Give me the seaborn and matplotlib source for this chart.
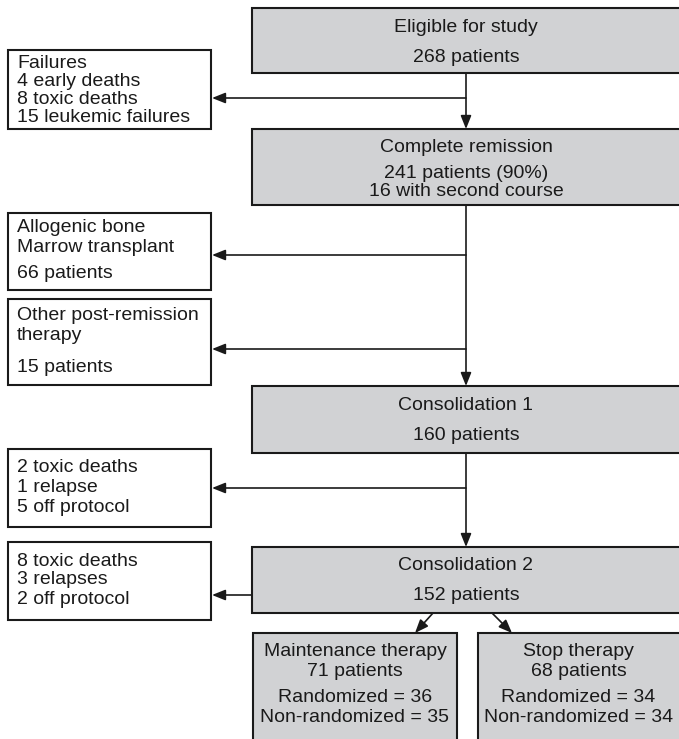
import matplotlib
matplotlib.use("Agg")
import matplotlib.pyplot as plt
from matplotlib.patches import Rectangle
import seaborn as sns

sns.set_style("white")
plt.rcParams['font.family'] = ['Liberation Sans', 'DejaVu Sans']

# texts of the main (grey) boxes, one list per box
main_texts = [
    ["Eligible for study", "268 patients"],
    ["Complete remission", "241 patients (90%)", "16 with second course"],
    ["Consolidation 1", "160 patients"],
    ["Consolidation 2", "152 patients"],
]

# texts of the side (white) boxes
side_texts = [
    ["Failures", "4 early deaths", "8 toxic deaths", "15 leukemic failures"],
    ["Allogenic bone", "Marrow transplant", "66 patients"],
    ["Other post-remission", "therapy", "15 patients"],
    ["2 toxic deaths", "1 relapse", "5 off protocol"],
    ["8 toxic deaths", "3 relapses", "2 off protocol"],
]

# final arms
arm_names = ["Maintenance therapy", "Stop therapy"]
arm_patients = [71, 68]
arm_randomized = [36, 34]
arm_nonrandomized = [35, 34]

# layout (pixels, y downwards)
W, H = 679, 739
main_x = (252, 683)
main_y = [(8, 73), (129, 205), (386, 453), (547, 613)]
main_line_y = [[27, 57], [148, 173, 192], [406, 436], [566, 596]]
side_x = (8, 211)
side_y = [(50, 129), (213, 290), (299, 385), (449, 527), (542, 620)]
side_line_y = [[63, 81, 99, 117], [228, 247, 274], [316, 335, 368],
               [468, 488, 507], [561, 580, 599]]
side_arrow_y = [98, 255, 349, 488, 595]
spine_x = 466
arm_x = [(253, 457), (478, 683)]
arm_top = 633
arm_line_y = [652, 671, 698, 718]
split_from = [433, 492]
split_to = [415, 512]
fs = 14
grey = "#d1d2d4"

fig = plt.figure(figsize=(W / 100, H / 100), dpi=100)
ax = fig.add_axes([0, 0, 1, 1])
ax.set_xlim(0, W)
ax.set_ylim(H, 0)
ax.axis("off")


def box(x0, x1, y0, y1, fc):
    ax.add_patch(Rectangle((x0, y0), x1 - x0, y1 - y0, fc=fc, ec="#1a1a1a",
                           lw=1.5, zorder=2))


def arrow(x0, y0, x1, y1):
    ax.annotate("", xy=(x1, y1), xytext=(x0, y0),
                arrowprops=dict(arrowstyle="-|>,head_length=0.8,head_width=0.32",
                                color="#1a1a1a", lw=1.2, shrinkA=0, shrinkB=0),
                zorder=3)


cx = (main_x[0] + main_x[1] - 3) / 2
for (y0, y1), lines, ys in zip(main_y, main_texts, main_line_y):
    box(main_x[0], main_x[1], y0, y1, grey)
    for t, yy in zip(lines, ys):
        ax.text(cx, yy, t, ha="center", va="center", fontsize=fs, color="#1a1a1a")

for (y0, y1), lines, ys in zip(side_y, side_texts, side_line_y):
    box(side_x[0], side_x[1], y0, y1, "white")
    for t, yy in zip(lines, ys):
        ax.text(side_x[0] + 9, yy, t, ha="left", va="center", fontsize=fs,
                color="#1a1a1a")

# vertical spine arrows between main boxes
for i in range(3):
    arrow(spine_x, main_y[i][1], spine_x, main_y[i + 1][0])

# side arrows
for k, ya in enumerate(side_arrow_y):
    x_start = spine_x if k < 4 else main_x[0]
    arrow(x_start, ya, side_x[1] + 1, ya)

# split into the two arms
for (x0, x1), name, n, r, nr in zip(arm_x, arm_names, arm_patients,
                                     arm_randomized, arm_nonrandomized):
    box(x0, x1, arm_top, H + 10, grey)
    ac = (x0 + min(x1, W)) / 2
    lines = [name, f"{n} patients", f"Randomized = {r}", f"Non-randomized = {nr}"]
    for t, yy in zip(lines, arm_line_y):
        ax.text(ac, yy, t, ha="center", va="center", fontsize=fs, color="#1a1a1a")

for xs, xe in zip(split_from, split_to):
    arrow(xs, main_y[3][1], xe, arm_top)

fig.savefig("out.png", dpi=100)
